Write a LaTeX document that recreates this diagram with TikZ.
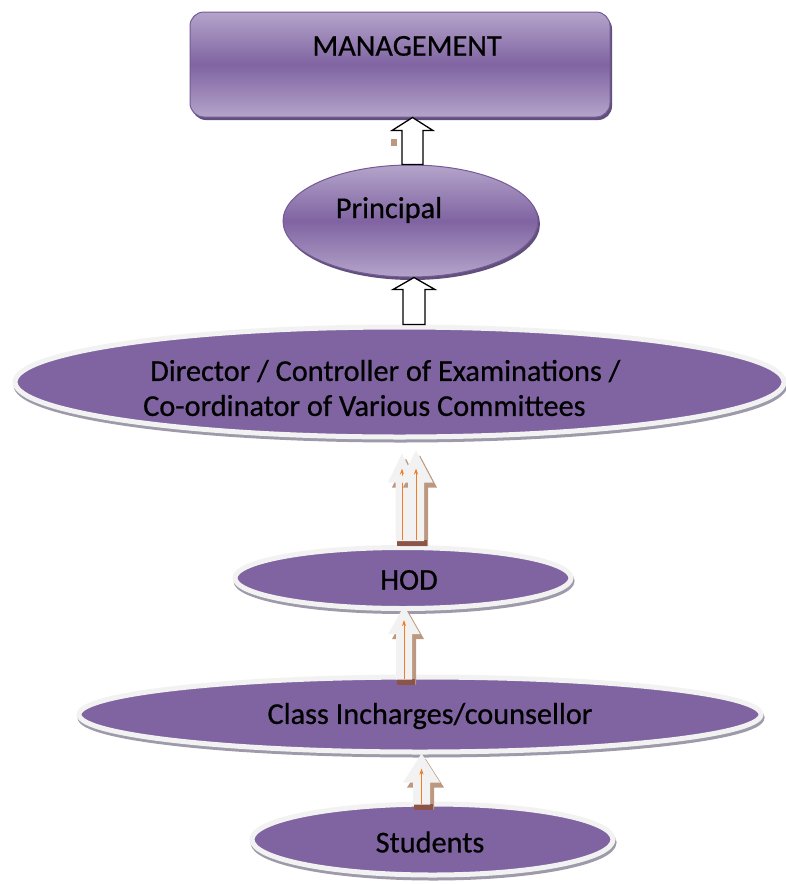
\documentclass[tikz,border=0pt]{standalone}
\usepackage{fontspec}
\setmainfont{Carlito}[FakeBold=0.6]
\usetikzlibrary{shapes.geometric, shadows, calc, arrows.meta}

\definecolor{orgpurple}{RGB}{128,100,162}
\definecolor{orglight}{RGB}{180,164,202}
\definecolor{orgedge}{RGB}{116,90,150}
\definecolor{orgshadow}{RGB}{98,80,124}
\definecolor{ringwhite}{RGB}{242,242,242}
\definecolor{ringshade}{RGB}{158,154,170}
\definecolor{arrowfill}{RGB}{242,242,242}
\definecolor{arrowshade}{RGB}{188,152,128}
\definecolor{arrowdark}{RGB}{140,84,72}
\definecolor{arroworange}{RGB}{240,124,36}

% upward block arrow: foot, tip, half shaft, half head, head length, offset, style
\newcommand\blockup[7]{%
  \path[#7] let \p1=(#1), \p2=(#2), \p3=(#6) in
    (\x1+\x3-#3,\y1+\y3) -- (\x1+\x3-#3,\y2+\y3-#5) -- (\x1+\x3-#4,\y2+\y3-#5)
    -- (\x1+\x3,\y2+\y3) -- (\x1+\x3+#4,\y2+\y3-#5) -- (\x1+\x3+#3,\y2+\y3-#5)
    -- (\x1+\x3+#3,\y1+\y3) -- cycle;}

% light block arrow with brown shadow and orange line
\newcommand\lightup[5]{%
  \blockup{#1}{#2}{#3}{#4}{#5}{4pt,-5pt}{fill=arrowshade}
  \path[fill=arrowdark] let \p1=(#1) in
    (\x1-#3+1pt,\y1+1pt) rectangle (\x1+#3+3pt,\y1-5pt);
  \blockup{#1}{#2}{#3}{#4}{#5}{0pt,0pt}{fill=arrowfill}
  \draw[line width=1pt, arroworange, -{Stealth[length=6pt, width=4pt]}]
    let \p1=(#1), \p2=(#2) in (\x1,\y1+1pt) -- (\x1,\y2-#5+14pt);}

\tikzset{
  lbl/.style={font=\fontsize{30.3}{35}\selectfont, text=black, inner sep=0pt},
  boxnode/.style={draw=orgedge, line width=1pt, rounded corners=14pt,
    top color=orglight, bottom color=orglight, middle color=orgpurple,
    drop shadow={shadow xshift=2pt, shadow yshift=-3pt, fill=orgshadow, opacity=1}},
  ovalshaded/.style={ellipse, draw=orgedge, line width=1pt, inner sep=0pt,
    top color=orglight, bottom color=orglight, middle color=orgpurple,
    drop shadow={shadow xshift=2pt, shadow yshift=-3pt, fill=orgshadow, opacity=1}},
  ellnode/.style={ellipse, fill=orgpurple, draw=ringwhite, line width=5pt, inner sep=0pt,
    drop shadow={shadow xshift=1pt, shadow yshift=-3pt, fill=ringshade,
      draw=ringshade, line width=5pt, opacity=1}},
  openarrow/.style={fill=white, draw=black, line width=1.3pt}
}

\begin{document}
\begin{tikzpicture}[x=1pt, y=-1pt]

  \useasboundingbox (0,0) rectangle (786,884);

  % levels
  \node[boxnode, minimum width=420pt, minimum height=105pt] (mgmt) at (400,64.5) {};
  \node[lbl] (mgmttxt) at (407,46) {MANAGEMENT};

  \node[ovalshaded, minimum width=255pt, minimum height=112pt] (principal) at (410.5,221) {};
  \node[lbl] (principaltxt) at (389,210) {Principal};

  \node[ellnode, minimum width=769pt, minimum height=110pt] (director) at (399.5,382) {};
  \node[lbl, align=left, anchor=west] (directortxt) at (143,388)
    {\hspace*{7pt}Director / Controller of Examinations /\\
     Co-ordinator of Various Committees};

  \node[ellnode, minimum width=336pt, minimum height=61pt] (hod) at (403,578) {};
  \node[lbl] (hodtxt) at (409,580) {HOD};

  \node[ellnode, minimum width=682pt, minimum height=75pt] (class) at (420,714.5) {};
  \node[lbl] (classtxt) at (430,716) {Class Incharges/counsellor};

  \node[ellnode, minimum width=361pt, minimum height=71pt] (students) at (432.5,839.5) {};
  \node[lbl] (studentstxt) at (430,842) {Students};

  % arrows
  \fill[arrowshade] (391,139) rectangle (397,146);
  \blockup{412.5,0 |- principal.north}{412.5,0 |- mgmt.south}{10.5pt}{20.5pt}{13pt}{0pt,0pt}{openarrow}
  \blockup{414,0 |- director.north}{414,0 |- principal.south}{11pt}{21pt}{12pt}{0pt,0pt}{openarrow}

  \lightup{$(402,0 |- hod.north)+(0,-4)$}{$(402,0 |- director.south)+(0,14)$}{6.5pt}{14pt}{29pt}
  \lightup{$(416,0 |- hod.north)+(0,-4)$}{$(416,0 |- director.south)+(0,11)$}{8pt}{17pt}{32pt}
  \lightup{$(404,0 |- class.north)+(0,5)$}{$(404,0 |- hod.south)+(0,-5)$}{8pt}{16pt}{28pt}
  \lightup{$(421.5,0 |- students.north)+(0,3)$}{$(421.5,0 |- class.south)+(0,-1)$}{8.5pt}{18.5pt}{29pt}

\end{tikzpicture}
\end{document}
